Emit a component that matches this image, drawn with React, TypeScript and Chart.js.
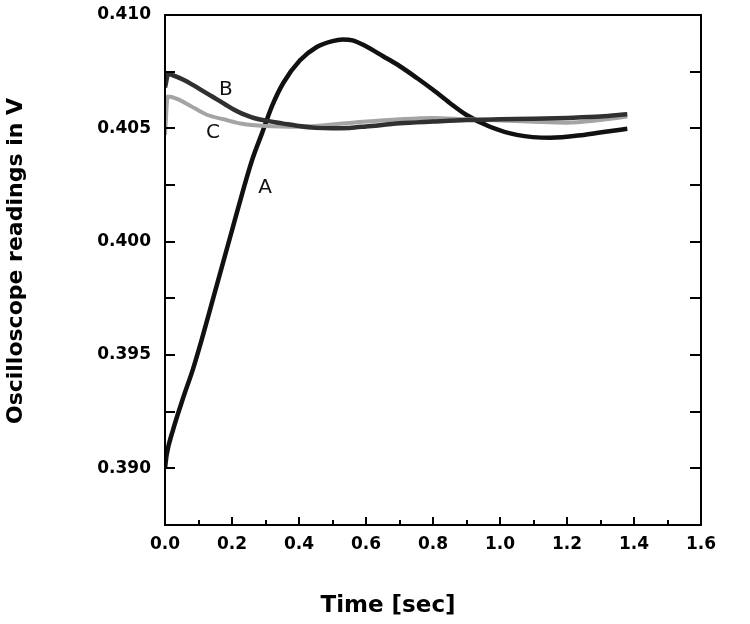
import React, { useEffect, useRef } from "react";
import { Chart, registerables } from "chart.js";

Chart.register(...registerables);

const aTime = [0, 0.005, 0.024, 0.054, 0.084, 0.11, 0.14, 0.17, 0.2, 0.23, 0.26, 0.29, 0.32, 0.353, 0.403, 0.453, 0.5, 0.53, 0.56, 0.6, 0.651, 0.7, 0.752, 0.8, 0.85, 0.9, 0.97, 1.05, 1.15, 1.25, 1.32, 1.38];
const aVolt = [0.3900, 0.3906, 0.3917, 0.3931, 0.3944, 0.3957, 0.3973, 0.3989, 0.4005, 0.4021, 0.4036, 0.4048, 0.4060, 0.4070, 0.4080, 0.40859, 0.40885, 0.40892, 0.40888, 0.40862, 0.40818, 0.40775, 0.40722, 0.40670, 0.40612, 0.40559, 0.40507, 0.40471, 0.40458, 0.40471, 0.40486, 0.40498];

const bTime = [0, 0.01, 0.03, 0.055, 0.08, 0.105, 0.13, 0.155, 0.18, 0.205, 0.23, 0.255, 0.28, 0.3, 0.35, 0.4, 0.45, 0.5, 0.55, 0.6, 0.7, 0.8, 0.9, 1.0, 1.1, 1.2, 1.3, 1.38];
const bVolt = [0.4068, 0.4074, 0.4073, 0.40714, 0.40694, 0.40672, 0.4065, 0.40628, 0.40605, 0.40583, 0.40565, 0.40551, 0.4054, 0.40534, 0.40522, 0.4051, 0.40502, 0.405, 0.40502, 0.40508, 0.40522, 0.4053, 0.40537, 0.4054, 0.40542, 0.40546, 0.40552, 0.40562];

const cTime = [0, 0.008, 0.036, 0.075, 0.125, 0.175, 0.23, 0.3, 0.4, 0.55, 0.7, 0.8, 0.9, 1.0, 1.1, 1.2, 1.3, 1.38];
const cVolt = [0.4047, 0.4064, 0.4063, 0.406, 0.4056, 0.4054, 0.4052, 0.4051, 0.40507, 0.40524, 0.4054, 0.40546, 0.4054, 0.40535, 0.40529, 0.40525, 0.40537, 0.40552];

const xTickValues = [0, 0.2, 0.4, 0.6, 0.8, 1.0, 1.2, 1.4, 1.6];
const xMinorTicks = [0, 0.1, 0.2, 0.3, 0.4, 0.5, 0.6, 0.7, 0.8, 0.9, 1.0, 1.1, 1.2, 1.3, 1.4, 1.5, 1.6];
const yTickValues = [0.39, 0.395, 0.4, 0.405, 0.41];
const yMinorTicks = [0.39, 0.3925, 0.395, 0.3975, 0.4, 0.4025, 0.405, 0.4075, 0.41];

const curveLabels = ["A", "B", "C"];
const labelTime = [0.2985, 0.182, 0.143];
const labelVolt = [0.40238, 0.4067, 0.4048];

const xTitle = "Time [sec]";
const yTitle = "Oscilloscope readings in V";

const FONT = "'DejaVu Sans', Verdana, sans-serif";

const toPoints = (t: number[], v: number[]) => t.map((x, i) => ({ x, y: v[i] }));

const decorPlugin = {
  id: "decor",
  afterDraw(chart: any) {
    const { ctx, chartArea } = chart;
    const xs = chart.scales.x;
    const ys = chart.scales.y;
    const { left, right, top, bottom } = chartArea;
    ctx.save();
    ctx.strokeStyle = "#000";
    ctx.lineWidth = 2;
    ctx.strokeRect(left, top, right - left, bottom - top);
    ctx.beginPath();
    yMinorTicks.forEach((v) => {
      const y = Math.round(ys.getPixelForValue(v));
      ctx.moveTo(left, y);
      ctx.lineTo(left + 10, y);
      ctx.moveTo(right, y);
      ctx.lineTo(right - 11, y);
    });
    xMinorTicks.forEach((t, i) => {
      const x = Math.round(xs.getPixelForValue(t));
      const len = i % 2 === 0 ? 8 : 5;
      ctx.moveTo(x, bottom);
      ctx.lineTo(x, bottom - len);
    });
    ctx.stroke();

    ctx.fillStyle = "#111";
    ctx.font = `20px ${FONT}`;
    ctx.textAlign = "center";
    ctx.textBaseline = "middle";
    curveLabels.forEach((s, i) => {
      ctx.fillText(s, xs.getPixelForValue(labelTime[i]), ys.getPixelForValue(labelVolt[i]));
    });

    ctx.fillStyle = "#000";
    ctx.font = `bold 23px ${FONT}`;
    ctx.textBaseline = "alphabetic";
    ctx.fillText(xTitle, 388, 612);

    ctx.translate(22, 261);
    ctx.rotate(-Math.PI / 2);
    ctx.font = `bold 22px ${FONT}`;
    ctx.fillText(yTitle, 0, 0);
    ctx.restore();
  },
};

export default function App() {
  const ref = useRef<HTMLCanvasElement>(null);
  useEffect(() => {
    const canvas = ref.current!;
    const chart = new Chart(canvas, {
      type: "line",
      data: {
        datasets: [
          { label: "B", data: toPoints(bTime, bVolt), borderColor: "#303030", borderWidth: 4.5, pointRadius: 0, cubicInterpolationMode: "monotone", fill: false },
          { label: "C", data: toPoints(cTime, cVolt), borderColor: "#a4a4a4", borderWidth: 4, pointRadius: 0, cubicInterpolationMode: "monotone", fill: false },
          { label: "A", data: toPoints(aTime, aVolt), borderColor: "#111111", borderWidth: 4.5, pointRadius: 0, cubicInterpolationMode: "monotone", fill: false },
        ],
      },
      options: {
        responsive: false,
        animation: false,
        layout: { padding: { top: 15, right: 49, bottom: 0, left: 0 } },
        plugins: { legend: { display: false }, tooltip: { enabled: false } },
        scales: {
          x: {
            type: "linear",
            min: 0,
            max: 1.6,
            grid: { display: false, drawTicks: false },
            border: { display: false },
            afterBuildTicks: (s: any) => { s.ticks = xTickValues.map((v) => ({ value: v })); },
            afterFit: (s: any) => { s.height = 99; s.paddingLeft = 0; s.paddingRight = 0; },
            ticks: {
              padding: 9,
              color: "#000",
              font: { family: FONT, size: 17, weight: "bold" },
              maxRotation: 0,
              callback: (v: any) => Number(v).toFixed(1),
            },
          },
          y: {
            type: "linear",
            min: 0.3875,
            max: 0.41,
            grid: { display: false, drawTicks: false },
            border: { display: false },
            afterBuildTicks: (s: any) => { s.ticks = yTickValues.map((v) => ({ value: v })); },
            afterFit: (s: any) => { s.width = 165; s.paddingTop = 0; s.paddingBottom = 0; },
            ticks: {
              padding: 14,
              color: "#000",
              font: { family: FONT, size: 17, weight: "bold" },
              callback: (v: any) => Number(v).toFixed(3),
            },
          },
        },
      },
      plugins: [decorPlugin],
    } as any);
    return () => chart.destroy();
  }, []);
  return (
    <div style={{ position: "absolute", left: 0, top: 0, width: 750, height: 624, background: "#fff" }}>
      <canvas ref={ref} width={750} height={624} style={{ display: "block" }} />
    </div>
  );
}
